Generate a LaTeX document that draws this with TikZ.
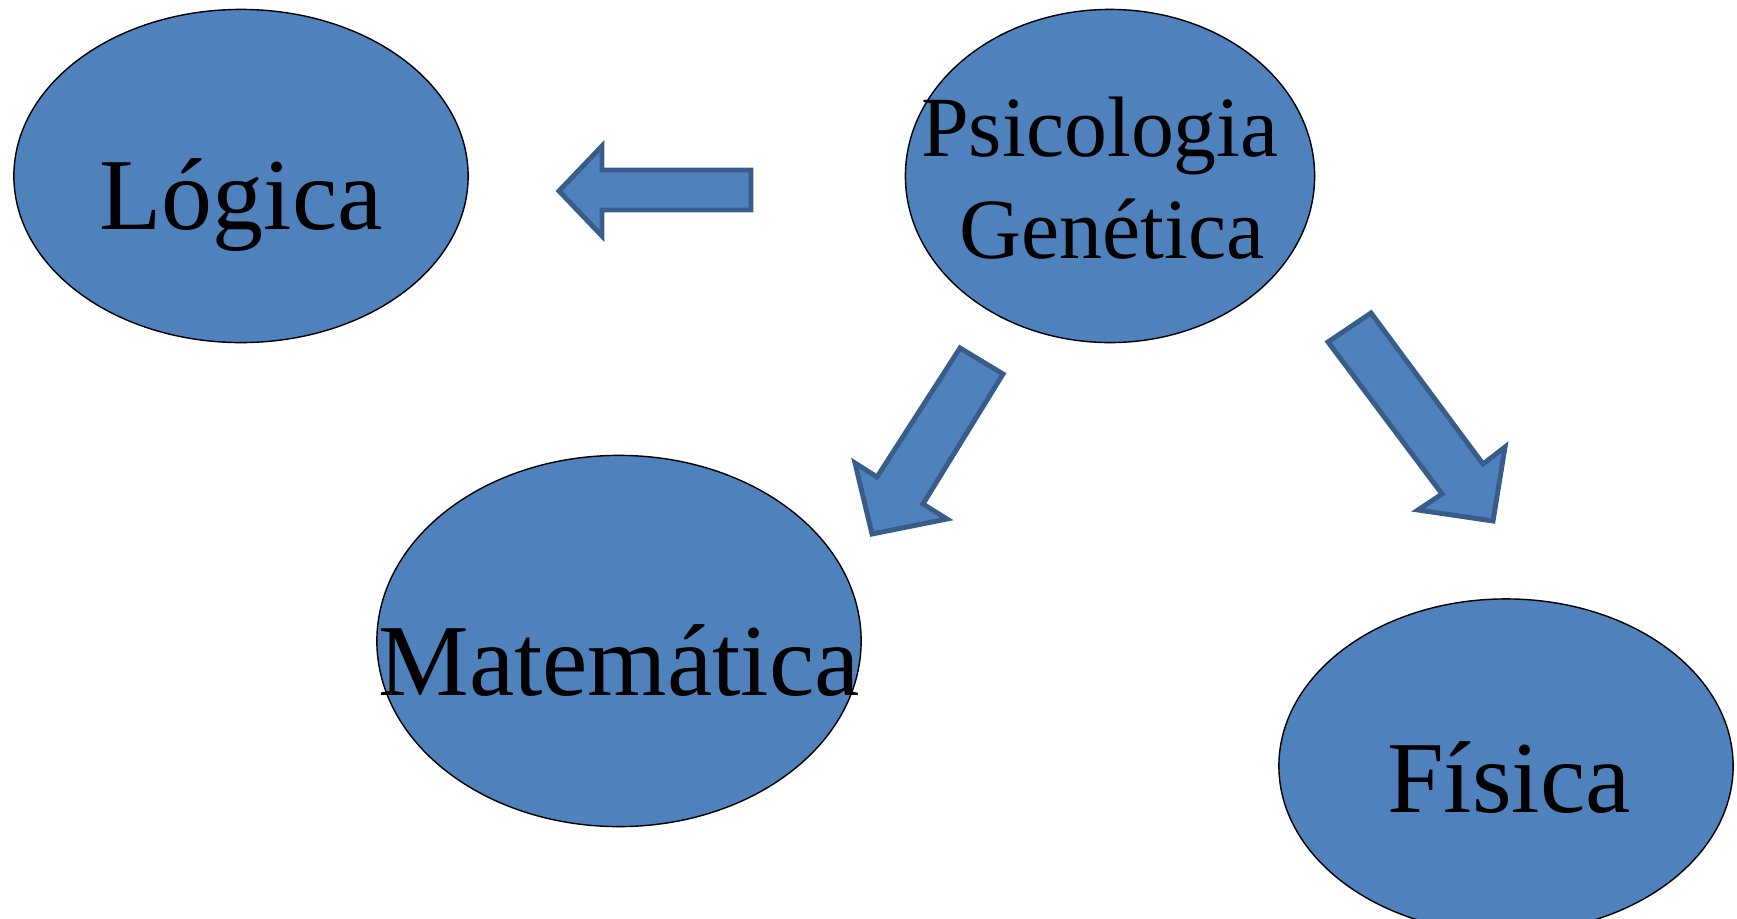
\documentclass[tikz,border=0pt]{standalone}
\usepackage{fontspec}
\setmainfont{Liberation Serif}
\usetikzlibrary{shapes.geometric}
\definecolor{topicblue}{HTML}{4F81BD}
\definecolor{arrowedge}{HTML}{385D8A}
\begin{document}
\begin{tikzpicture}[x=0.01cm,y=-0.01cm,
  topic/.style={ellipse,draw=black,line width=0.4pt,fill=topicblue,inner sep=0pt},
  topictext/.style={anchor=base,inner sep=0pt,text=black,font=\fontsize{29}{35}\selectfont},
  smalltext/.style={anchor=base,inner sep=0pt,text=black,font=\fontsize{24.4}{29}\selectfont},
  blockarrow/.style={fill=topicblue,draw=arrowedge,line width=1.4pt,line join=miter}]
  \clip (0,0) rectangle (1737,918);

  % topic ellipses
  \node[topic,minimum width=4.54cm,minimum height=3.33cm] (logica) at (241,176) {};
  \node[topic,minimum width=4.09cm,minimum height=3.33cm] (psico) at (1110,176) {};
  \node[topic,minimum width=4.84cm,minimum height=3.71cm] (mate) at (619,641) {};
  \node[topic,minimum width=4.54cm,minimum height=3.34cm] (fisica) at (1506,766) {};

  % block arrows
  \draw[blockarrow] (751,170) -- (602,170) -- (602,146) -- (559,191)
                    -- (602,236) -- (602,210) -- (751,210) -- cycle;
  \draw[blockarrow] (960,348) -- (877,477) -- (855,463) -- (872,534)
                    -- (947,519) -- (923,504) -- (1003,374) -- cycle;
  \draw[blockarrow] (1328,342) -- (1442,494) -- (1418,510) -- (1493,521)
                    -- (1505,447) -- (1483,464) -- (1371,313) -- cycle;

  % labels
  \node[topictext] (logicaText) at (241,229) {Lógica};
  \node[smalltext] (psicoTextA) at (1100,156) {Psicologia};
  \node[smalltext] (psicoTextB) at (1112,258) {Genética};
  \node[topictext] (mateText) at (619,695) {Matemática};
  \node[topictext] (fisicaText) at (1509,812) {Física};
\end{tikzpicture}
\end{document}
